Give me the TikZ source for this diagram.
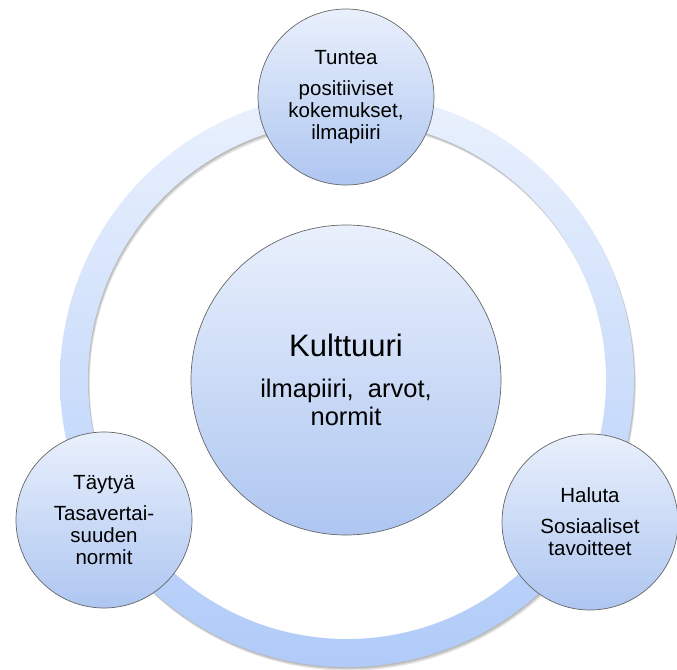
\documentclass[tikz,border=0pt]{standalone}
\usepackage{fontspec}
\setmainfont{Liberation Sans}
\usetikzlibrary{positioning}

\definecolor{circtop}{RGB}{233,240,252}
\definecolor{circbot}{RGB}{174,198,241}
\definecolor{ringtop}{RGB}{234,241,253}
\definecolor{ringbot}{RGB}{176,203,249}

\tikzset{
  bubble/.style={circle, draw=black!60, line width=0.7pt,
    top color=circtop, bottom color=circbot,
    minimum size=176pt, inner sep=0pt, align=center,
    font=\fontsize{20.5}{22}\selectfont},
  hub/.style={bubble, minimum size=310pt,
    font=\fontsize{25.5}{28}\selectfont}
}

\begin{document}
\begin{tikzpicture}[x=1pt,y=-1pt]
    \useasboundingbox (0,0) rectangle (677,669);
    \coordinate (mid) at (347,380);

    % soft shadow under the ring
    \foreach \d in {1,2,3} {
      \fill[black, opacity=.1, even odd rule]
        ([shift={(0.6*\d,1.2*\d)}]mid) circle[radius=287pt]
        ([shift={(0.6*\d,1.2*\d)}]mid) circle[radius=259pt];
    }

    % the ring
    \shade[even odd rule, top color=ringtop, bottom color=ringbot]
      (mid) circle[radius=287pt] (mid) circle[radius=259pt];

    % centre circle
    \node[hub] (kulttuuri) at (346,380)
      {{\fontsize{31}{33}\selectfont Kulttuuri}\\[13pt]ilmapiiri,\ \ arvot,\\normit};

    % 3 small circles on the ring
    \node[bubble] (tuntea) at (346,97)
      {Tuntea\\[9pt]positiiviset\\kokemukset,\\ilmapiiri};
    \node[bubble] (taytya) at (104,520)
      {Täytyä\\[9pt]Tasavertai-\\suuden\\normit};
    \node[bubble] (haluta) at (590,522)
      {Haluta\\[9pt]Sosiaaliset\\tavoitteet};

\end{tikzpicture}
\end{document}
